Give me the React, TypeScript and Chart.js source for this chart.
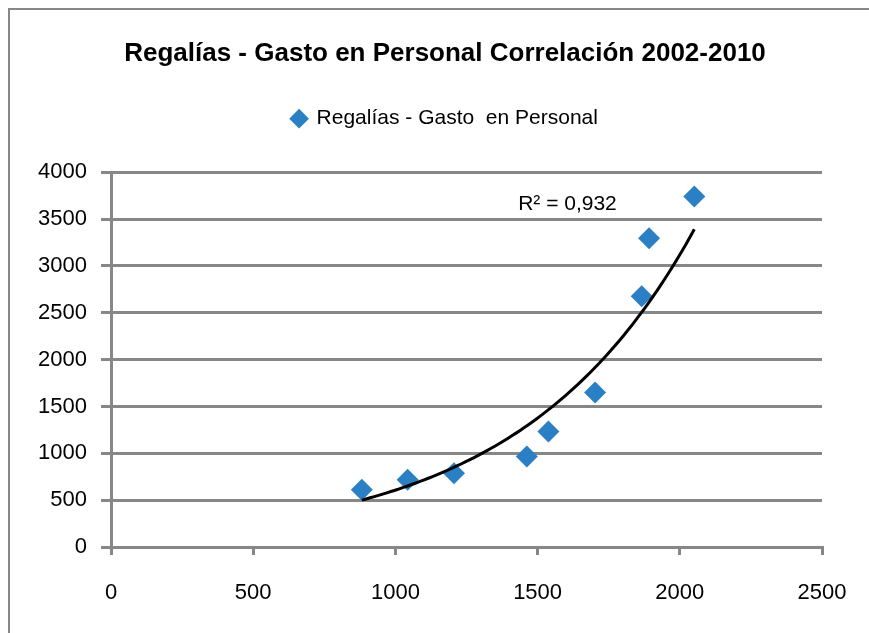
import React, { useEffect, useRef } from "react";
import { Chart, registerables } from "chart.js";

Chart.register(...registerables);

// ---- data ----
const TITLE = "Regalías - Gasto en Personal Correlación 2002-2010";
const SERIES_LABEL = "Regalías - Gasto  en Personal";
const gastoPersonal = [882, 1043, 1206, 1462, 1538, 1702, 1866, 1892, 2051];
const regalias = [610, 717, 788, 966, 1233, 1650, 2677, 3294, 3740];
const X_TICKS = [0, 500, 1000, 1500, 2000, 2500];
const Y_TICKS = [0, 500, 1000, 1500, 2000, 2500, 3000, 3500, 4000];
const R2_TEXT = "R² = 0,932";
const R2_ANCHOR = [1605, 3660];

const FONT = "'Liberation Sans', Arial, sans-serif";
const GRID = "#878787";
const MARKER = "#2b80c5";
const LEGEND_GAP = 33;

// exponential trendline (least squares on ln y), like Excel
function expFit(xs: number[], ys: number[]) {
  const n = xs.length;
  const ly = ys.map((v) => Math.log(v));
  const mx = xs.reduce((a, b) => a + b, 0) / n;
  const my = ly.reduce((a, b) => a + b, 0) / n;
  let sxy = 0;
  let sxx = 0;
  for (let i = 0; i < n; i++) {
    sxy += (xs[i] - mx) * (ly[i] - my);
    sxx += (xs[i] - mx) * (xs[i] - mx);
  }
  const b = sxy / sxx;
  const a = Math.exp(my - b * mx);
  return (x: number) => a * Math.exp(b * x);
}

function trendPoints() {
  const f = expFit(gastoPersonal, regalias);
  const lo = Math.min(...gastoPersonal);
  const hi = Math.max(...gastoPersonal);
  const steps = 80;
  const pts: { x: number; y: number }[] = [];
  for (let i = 0; i <= steps; i++) {
    const x = lo + ((hi - lo) * i) / steps;
    pts.push({ x, y: f(x) });
  }
  return pts;
}

const legendGapPlugin = {
  id: "legendGap",
  beforeLayout(chart: any) {
    const lg = chart.legend;
    if (lg && !lg.__gap) {
      const fit = lg.fit;
      lg.fit = function () {
        fit.call(this);
        this.height += LEGEND_GAP;
      };
      lg.__gap = true;
    }
  },
};

const r2LabelPlugin = {
  id: "r2Label",
  afterDatasetsDraw(chart: any) {
    const { ctx, scales } = chart;
    const x = scales.x.getPixelForValue(R2_ANCHOR[0]);
    const y = scales.y.getPixelForValue(R2_ANCHOR[1]);
    ctx.save();
    ctx.font = `21px ${FONT}`;
    ctx.fillStyle = "#000";
    ctx.textAlign = "center";
    ctx.textBaseline = "middle";
    ctx.fillText(R2_TEXT, x, y);
    ctx.restore();
  },
};

const plain = (v: any) => String(v);

export default function App() {
  const ref = useRef<HTMLCanvasElement | null>(null);

  useEffect(() => {
    if (!ref.current) return;
    const chart = new Chart(ref.current, {
      type: "scatter",
      data: {
        datasets: [
          {
            type: "line",
            label: "trend",
            data: trendPoints(),
            borderColor: "#000",
            borderWidth: 3,
            pointRadius: 0,
            fill: false,
            tension: 0,
            order: 0,
          } as any,
          {
            label: SERIES_LABEL,
            data: gastoPersonal.map((x, i) => ({ x, y: regalias[i] })),
            pointStyle: "rectRot",
            pointRadius: 11,
            backgroundColor: MARKER,
            borderColor: MARKER,
            borderWidth: 0,
            order: 1,
          },
        ],
      },
      options: {
        responsive: false,
        animation: false,
        layout: { padding: { top: 0, left: 0, right: 0, bottom: 0 } },
        plugins: {
          title: {
            display: true,
            text: TITLE,
            color: "#000",
            font: { family: FONT, size: 26, weight: "bold" },
            padding: { top: 28, bottom: 29 },
          },
          legend: {
            display: true,
            labels: {
              color: "#000",
              font: { family: FONT, size: 21 },
              usePointStyle: true,
              boxWidth: 14,
              boxHeight: 14,
              padding: 10,
              filter: (item: any) => item.text !== "trend",
            },
          },
          tooltip: { enabled: false },
        },
        scales: {
          x: {
            type: "linear",
            min: 0,
            max: 2500,
            afterFit: (s: any) => {
              s.height = 86;
            },
            afterBuildTicks: (s: any) => {
              s.ticks = X_TICKS.map((v) => ({ value: v }));
            },
            ticks: {
              color: "#000",
              font: { family: FONT, size: 22 },
              padding: 25,
              maxRotation: 0,
              callback: plain,
            },
            grid: {
              display: true,
              drawOnChartArea: false,
              drawTicks: true,
              tickLength: 8,
              color: GRID,
              lineWidth: 3,
            },
            border: { display: true, color: GRID, width: 3 },
          },
          y: {
            type: "linear",
            min: 0,
            max: 4000,
            afterFit: (s: any) => {
              s.width = 101;
            },
            afterBuildTicks: (s: any) => {
              s.ticks = Y_TICKS.map((v) => ({ value: v }));
            },
            ticks: {
              color: "#000",
              font: { family: FONT, size: 22 },
              padding: 14,
              callback: plain,
            },
            grid: {
              display: true,
              drawOnChartArea: true,
              drawTicks: true,
              tickLength: 10,
              color: GRID,
              lineWidth: 3,
            },
            border: { display: true, color: GRID, width: 3 },
          },
          // invisible spacer axis that keeps the plot's right margin
          spacer: {
            type: "linear",
            position: "right",
            display: true,
            afterFit: (s: any) => {
              s.width = 58;
            },
            ticks: { display: false },
            grid: { display: false, drawTicks: false },
            border: { display: false },
          },
        },
      },
      plugins: [legendGapPlugin, r2LabelPlugin],
    });
    return () => chart.destroy();
  }, []);

  return (
    <div
      style={{
        position: "fixed",
        left: 8,
        top: 8,
        width: 880,
        height: 640,
        borderLeft: `2px solid ${GRID}`,
        borderTop: `2px solid ${GRID}`,
        background: "#fff",
      }}
    >
      <canvas ref={ref} width={870} height={623} style={{ display: "block" }} />
    </div>
  );
}
